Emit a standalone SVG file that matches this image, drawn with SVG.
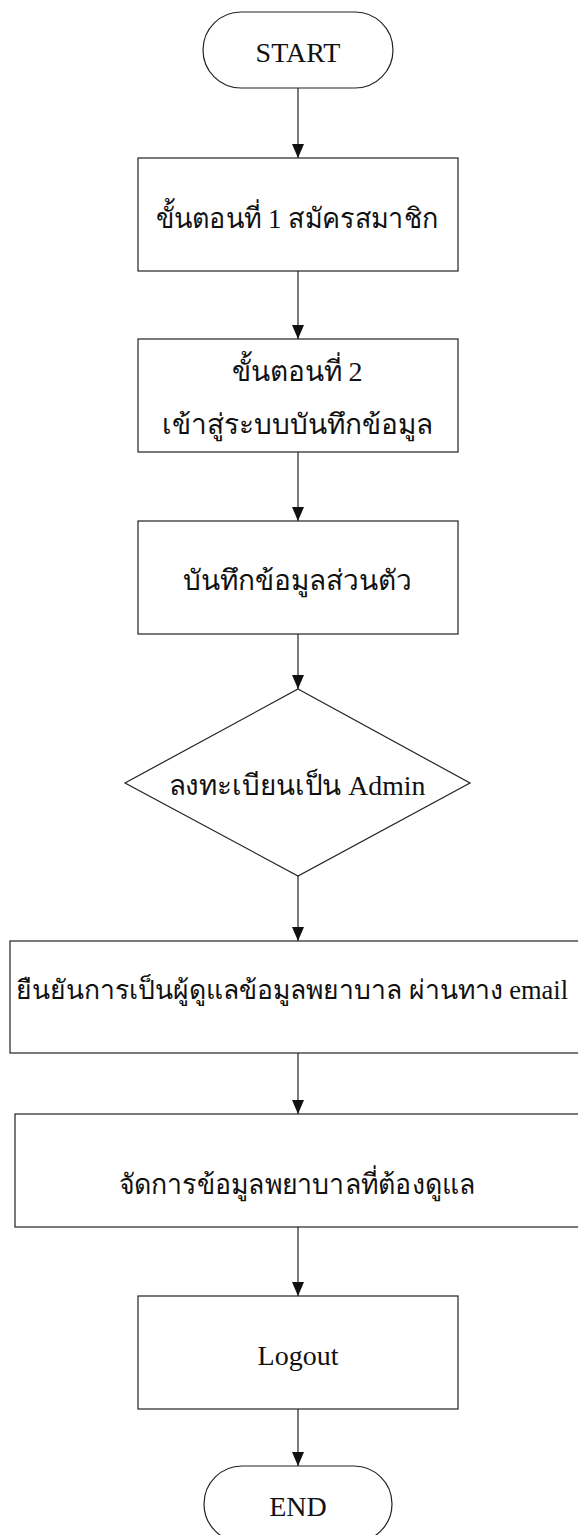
<svg xmlns="http://www.w3.org/2000/svg" width="578" height="1535" viewBox="0 0 578 1535">
<style>
.s{fill:#fff;stroke:#222;stroke-width:1.2}
.t{font-family:"Liberation Serif","Noto Sans",serif;font-size:28px;fill:#111;text-anchor:middle}
.c{stroke:#222;stroke-width:1.2;fill:none;marker-end:url(#ah)}
</style>
<defs>
<marker id="ah" markerUnits="userSpaceOnUse" markerWidth="14" markerHeight="12" refX="14" refY="6" orient="auto">
<path d="M0,0 L14,6 L0,12 z" fill="#111"/>
</marker>
</defs>
<rect width="578" height="1535" fill="#fff"/>
<g id="connectors">
<line class="c" x1="298" y1="88" x2="298" y2="158"/>
<line class="c" x1="298" y1="271" x2="298" y2="339"/>
<line class="c" x1="298" y1="452" x2="298" y2="521"/>
<line class="c" x1="298" y1="634" x2="298" y2="689"/>
<line class="c" x1="298" y1="876" x2="298" y2="941"/>
<line class="c" x1="298" y1="1053" x2="298" y2="1114"/>
<line class="c" x1="298" y1="1227" x2="298" y2="1296"/>
<line class="c" x1="298" y1="1409" x2="298" y2="1466"/>
</g>
<g id="start">
<rect class="s" x="203" y="12" width="190" height="76" rx="38" ry="38"/>
<text class="t" x="298" y="62">START</text>
</g>
<g id="step1">
<rect class="s" x="138" y="158" width="320" height="113"/>
<text class="t" x="297" y="228" textLength="283" lengthAdjust="spacingAndGlyphs">ขั้นตอนที่ 1 สมัครสมาชิก</text>
</g>
<g id="step2">
<rect class="s" x="138" y="339" width="320" height="113"/>
<text class="t" x="297" y="381">ขั้นตอนที่ 2</text>
<text class="t" x="297" y="434">เข้าสู่ระบบบันทึกข้อมูล</text>
</g>
<g id="personal">
<rect class="s" x="138" y="521" width="320" height="113"/>
<text class="t" x="297" y="590">บันทึกข้อมูลส่วนตัว</text>
</g>
<g id="admin">
<polygon class="s" points="298,689 470,783 298,876 125,783"/>
<text class="t" x="297" y="795" textLength="257" lengthAdjust="spacingAndGlyphs">ลงทะเบียนเป็น Admin</text>
</g>
<g id="confirm">
<rect class="s" x="10" y="941" width="576" height="112"/>
<text class="t" x="292" y="999" style="font-size:26.5px">ยืนยันการเป็นผู้ดูแลข้อมูลพยาบาล ผ่านทาง email</text>
</g>
<g id="manage">
<rect class="s" x="15" y="1114" width="566" height="113"/>
<text class="t" x="297" y="1194" textLength="357" lengthAdjust="spacingAndGlyphs">จัดการข้อมูลพยาบาลที่ต้องดูแล</text>
</g>
<g id="logout">
<rect class="s" x="138" y="1296" width="320" height="113"/>
<text class="t" x="298" y="1365">Logout</text>
</g>
<g id="end">
<rect class="s" x="204" y="1466" width="188" height="76" rx="38" ry="38"/>
<text class="t" x="298" y="1516">END</text>
</g>
</svg>
